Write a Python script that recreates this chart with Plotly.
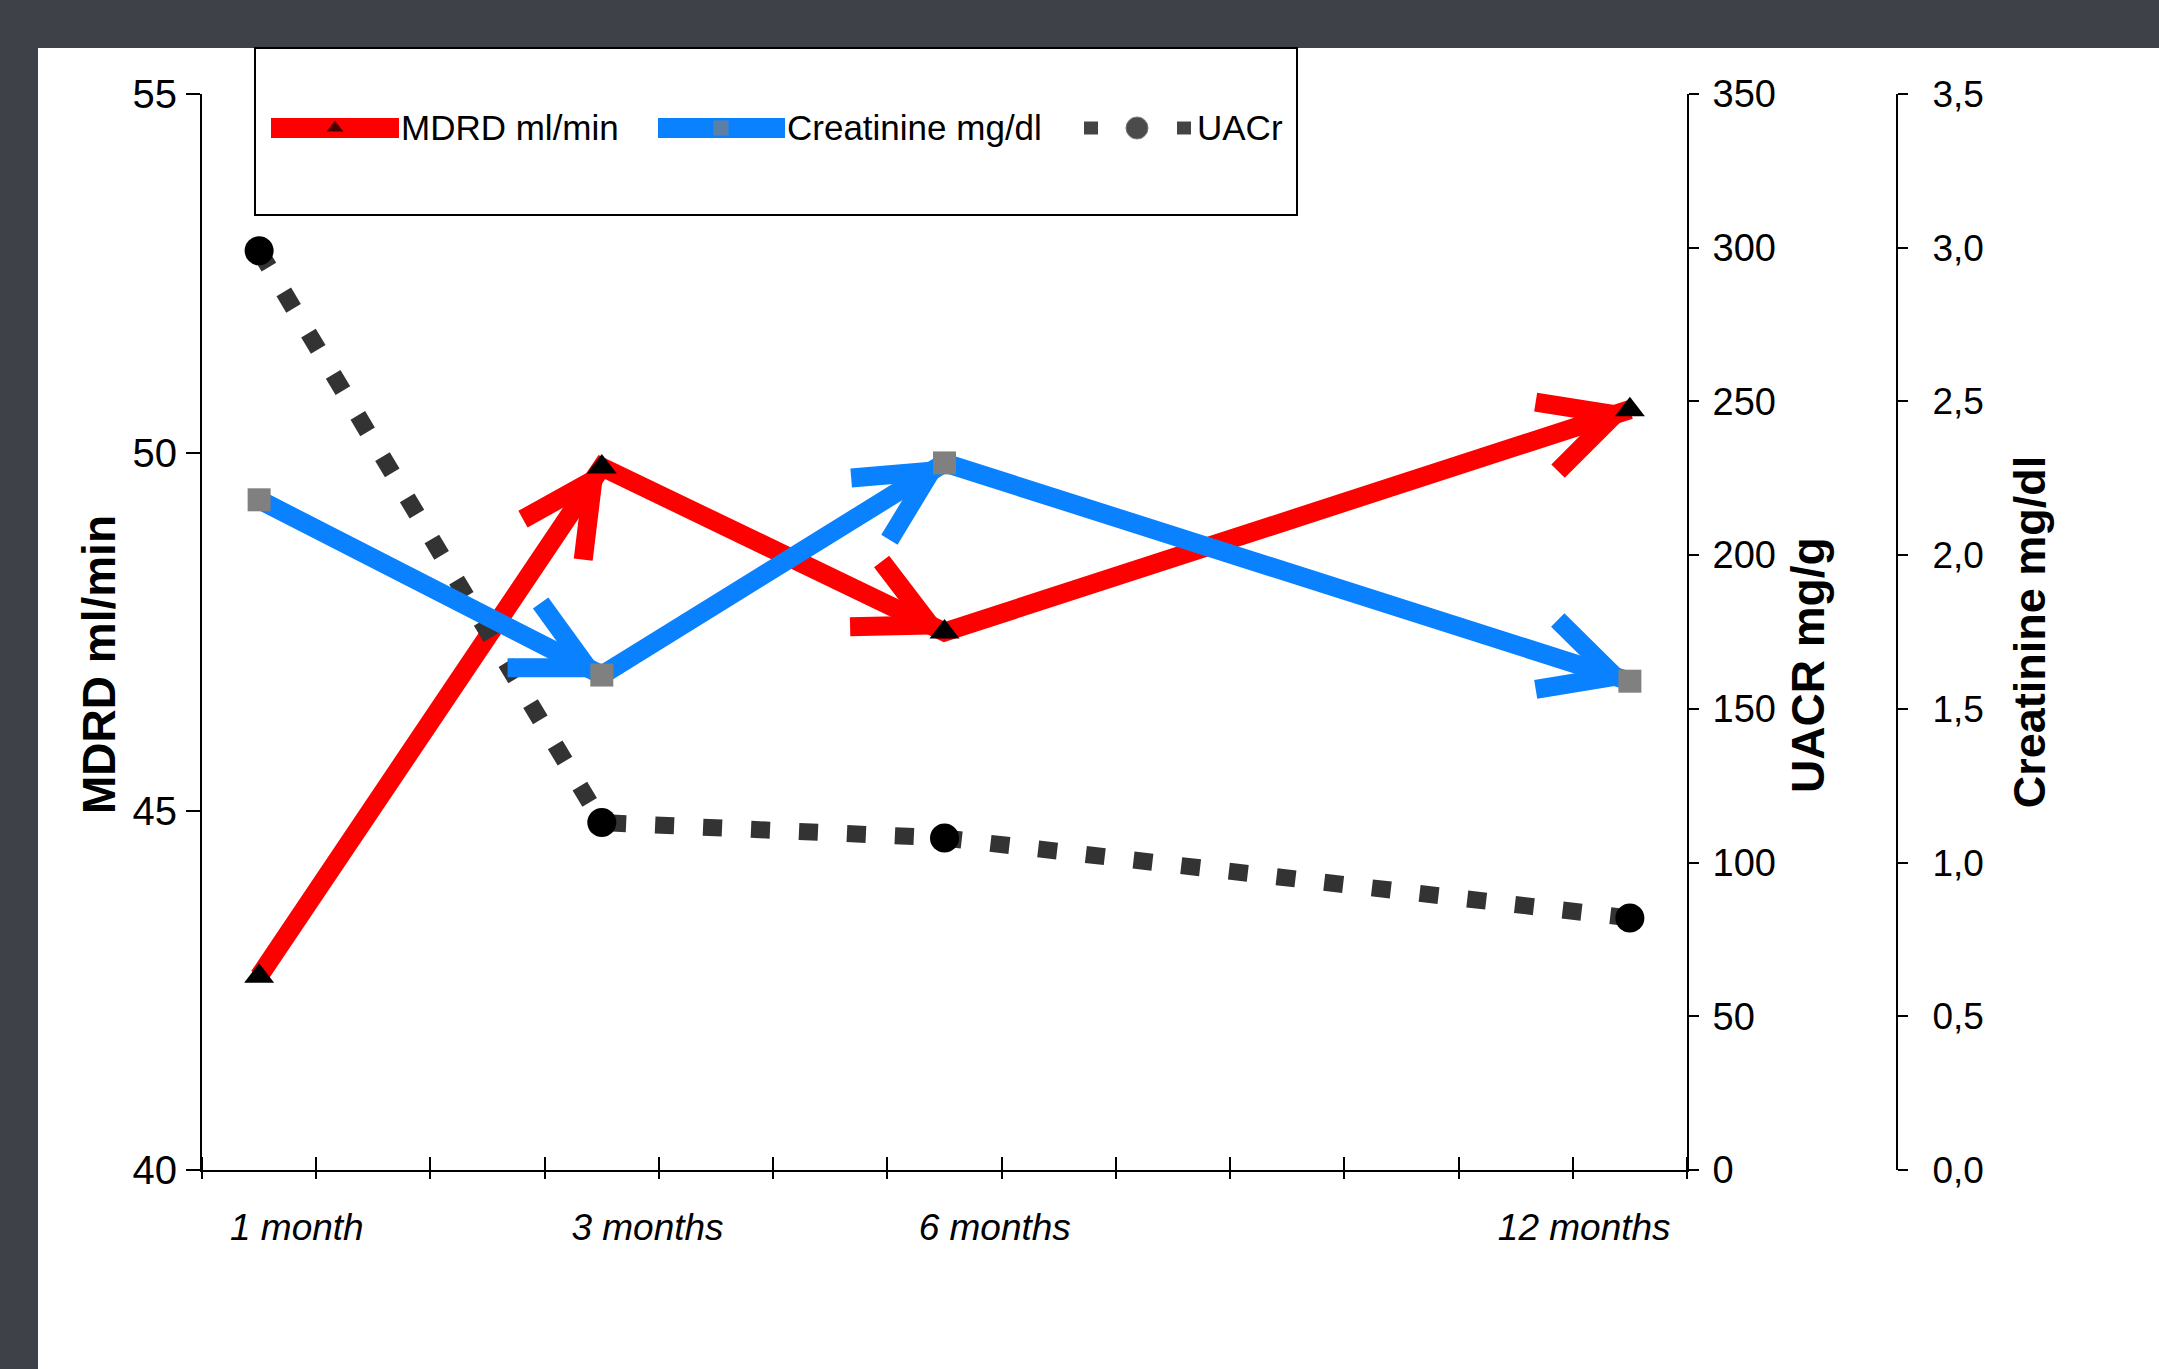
import math
import plotly.graph_objects as go

# ---------------- data ----------------
months = ["1 month", "3 months", "6 months", "12 months"]
x_positions = [0.5, 3.5, 6.5, 12.5]          # category positions on a 13-slot time axis
label_positions = [0.83, 3.9, 6.94, 12.1]    # where the month labels sit
mdrd = [42.7, 49.8, 47.5, 50.6]              # MDRD ml/min (left axis)
creatinine = [2.18, 1.61, 2.30, 1.59]        # Creatinine mg/dl (far right axis)
uacr = [299, 113, 108, 82]                   # UACR mg/g (inner right axis)
mdrd_ticks = [40, 45, 50, 55]
uacr_ticks = [0, 50, 100, 150, 200, 250, 300, 350]
creat_ticks = [0.0, 0.5, 1.0, 1.5, 2.0, 2.5, 3.0, 3.5]
legend_names = ["MDRD ml/min", "Creatinine mg/dl", "UACr"]
axis_titles = ["MDRD ml/min", "UACR mg/g", "Creatinine mg/dl"]

# ---------------- layout geometry / styles ----------------
W, H = 2159, 1369
PLOT_L, PLOT_R, PLOT_T, PLOT_B = 202, 1687, 94, 1170
CREAT_AXIS_X = 1897
X_RANGE = [0, 13]
MDRD_RANGE = [40, 55]
UACR_RANGE = [0, 350]
CREAT_RANGE = [0, 3.5]
BG = "#3e4148"
RED = "#ff0000"
BLUE = "#0a82ff"
GRAY = "#808080"
DASH = "#333333"
SANS = "Liberation Sans, Arial, sans-serif"
LINE_W = 19


def px(x):
    return x / W


def py(y):
    return 1 - y / H


def chevrons(xs, ys, y_range, arm_len=80, half_angle=27, back=16):
    """Open arrowheads at the end of every segment, built in the axes' data space."""
    sx = (PLOT_R - PLOT_L) / (X_RANGE[1] - X_RANGE[0])
    sy = (PLOT_B - PLOT_T) / (y_range[1] - y_range[0])
    a = math.radians(half_angle)
    cx, cy = [], []
    for i in range(1, len(xs)):
        dx = (xs[i] - xs[i - 1]) * sx
        dy = (ys[i] - ys[i - 1]) * sy
        L = math.hypot(dx, dy)
        ux, uy = dx / L, dy / L
        tx = xs[i] - back * ux / sx
        ty = ys[i] - back * uy / sy
        bx, by = -ux, -uy
        pts = []
        for s in (1, -1):
            rx = bx * math.cos(s * a) - by * math.sin(s * a)
            ry = bx * math.sin(s * a) + by * math.cos(s * a)
            pts.append((tx + arm_len * rx / sx, ty + arm_len * ry / sy))
        cx += [pts[0][0], tx, pts[1][0], None]
        cy += [pts[0][1], ty, pts[1][1], None]
    return cx, cy


fig = go.Figure()

# main lines
fig.add_trace(go.Scatter(x=x_positions, y=mdrd, mode="lines", name=legend_names[0],
                         line=dict(color=RED, width=LINE_W), yaxis="y", showlegend=False))
cx, cy = chevrons(x_positions, mdrd, MDRD_RANGE)
fig.add_trace(go.Scatter(x=cx, y=cy, mode="lines", line=dict(color=RED, width=LINE_W),
                         yaxis="y", showlegend=False, hoverinfo="skip"))
fig.add_trace(go.Scatter(x=x_positions, y=creatinine, mode="lines", name=legend_names[1],
                         line=dict(color=BLUE, width=LINE_W), yaxis="y3", showlegend=False))
cx, cy = chevrons(x_positions, creatinine, CREAT_RANGE)
fig.add_trace(go.Scatter(x=cx, y=cy, mode="lines", line=dict(color=BLUE, width=LINE_W),
                         yaxis="y3", showlegend=False, hoverinfo="skip"))
fig.add_trace(go.Scatter(x=x_positions, y=uacr, mode="lines+markers", name=legend_names[2],
                         line=dict(color=DASH, width=17, dash="19px,29px"),
                         marker=dict(symbol="circle", color="black", size=29),
                         yaxis="y2", showlegend=False))
# markers on top
fig.add_trace(go.Scatter(x=x_positions, y=mdrd, mode="markers", name=legend_names[0],
                         marker=dict(symbol="triangle-up", color="black", size=26),
                         yaxis="y", showlegend=False))
fig.add_trace(go.Scatter(x=x_positions, y=creatinine, mode="markers", name=legend_names[1],
                         marker=dict(symbol="square", color=GRAY, size=23),
                         yaxis="y3", showlegend=False))
# helper trace for the crossing-tick overlay axis
fig.add_trace(go.Scatter(x=X_RANGE, y=[None, None], xaxis="x2", yaxis="y",
                         mode="lines", showlegend=False, hoverinfo="skip"))

# ---------------- custom legend ----------------
LX, LY = "x3", "y4"
leg_y = 128
fig.add_trace(go.Scatter(x=[271, 335, 399], y=[leg_y] * 3, mode="lines+markers",
                         line=dict(color=RED, width=20),
                         marker=dict(symbol="triangle-up", color="black", size=[0, 16, 0]),
                         xaxis=LX, yaxis=LY, showlegend=False, hoverinfo="skip"))
fig.add_trace(go.Scatter(x=[658, 721, 785], y=[leg_y] * 3, mode="lines+markers",
                         line=dict(color=BLUE, width=20),
                         marker=dict(symbol="square", color=GRAY, size=[0, 16, 0]),
                         xaxis=LX, yaxis=LY, showlegend=False, hoverinfo="skip"))
fig.add_trace(go.Scatter(x=[1084, 1137, 1191], y=[leg_y] * 3, mode="lines+markers",
                         line=dict(color="#444444", width=13, dash="14px,79px"),
                         marker=dict(symbol="circle", color="black", size=[0, 22, 0]),
                         xaxis=LX, yaxis=LY, showlegend=False, hoverinfo="skip"))
annotations = []
for text, xl in zip(legend_names, [399, 785, 1195]):
    annotations.append(dict(x=px(xl), y=py(leg_y), xref="paper", yref="paper",
                            text=text, showarrow=False, xanchor="left", yanchor="middle",
                            font=dict(family=SANS, size=35, color="black")))
# axis titles for the MDRD and UACR axes (sit below the axis centre in the original)
for text, (tx, ty) in zip(axis_titles[:2], [(99, 665), (1808, 665)]):
    annotations.append(dict(x=px(tx), y=py(ty), xref="paper", yref="paper",
                            text=text, showarrow=False, textangle=-90,
                            xanchor="center", yanchor="middle",
                            font=dict(family=SANS, size=46, color="black", weight="bold")))

shapes = [
    dict(type="rect", xref="paper", yref="paper", x0=px(38), x1=1, y0=0, y1=py(48),
         fillcolor="white", line=dict(width=0), layer="below"),
    dict(type="rect", xref="paper", yref="paper", x0=px(255), x1=px(1297),
         y0=py(215), y1=py(48), fillcolor="rgba(0,0,0,0)",
         line=dict(color="black", width=2), layer="below"),
]

x_dom = [px(PLOT_L), px(PLOT_R)]
y_dom = [py(PLOT_B), py(PLOT_T)]

fig.update_layout(
    width=W, height=H, autosize=False,
    margin=dict(l=0, r=0, t=0, b=0, pad=0),
    paper_bgcolor=BG, plot_bgcolor="rgba(0,0,0,0)",
    separators=",.",
    showlegend=False,
    xaxis=dict(domain=x_dom, range=X_RANGE, anchor="y", automargin=False,
               showline=True, linecolor="black", linewidth=2,
               showgrid=False, zeroline=False,
               tickmode="array", tickvals=label_positions, ticktext=months,
               ticks="", ticklabelstandoff=24,
               tickfont=dict(family=SANS, size=37, color="black", style="italic"),
               minor=dict(tickmode="linear", tick0=0, dtick=1, ticks="inside",
                          ticklen=13, tickwidth=2, tickcolor="black", showgrid=False)),
    xaxis2=dict(domain=x_dom, range=X_RANGE, anchor="y", overlaying="x", automargin=False,
                showline=False, showgrid=False, zeroline=False,
                tickmode="linear", tick0=0, dtick=1, ticks="outside",
                ticklen=8, tickwidth=2, tickcolor="black", showticklabels=False),
    yaxis=dict(domain=y_dom, range=MDRD_RANGE, anchor="x", automargin=False,
               showline=True, linecolor="black", linewidth=2,
               showgrid=False, zeroline=False,
               tickmode="array", tickvals=mdrd_ticks,
               ticks="outside", ticklen=14, tickwidth=2, tickcolor="black",
               ticklabelstandoff=1,
               tickfont=dict(family=SANS, size=40, color="black")),
    yaxis2=dict(domain=y_dom, range=UACR_RANGE, anchor="x", overlaying="y", side="right",
                automargin=False,
                showline=True, linecolor="black", linewidth=2,
                showgrid=False, zeroline=False,
                tickmode="array", tickvals=uacr_ticks,
                ticks="outside", ticklen=10, tickwidth=2, tickcolor="black",
                ticklabelstandoff=6,
                tickfont=dict(family=SANS, size=38, color="black")),
    yaxis3=dict(domain=y_dom, range=CREAT_RANGE, anchor="free", position=px(CREAT_AXIS_X),
                overlaying="y", side="right", automargin=False,
                showline=True, linecolor="black", linewidth=2,
                showgrid=False, zeroline=False,
                tickmode="array", tickvals=creat_ticks, tickformat=".1f",
                ticks="outside", ticklen=10, tickwidth=2, tickcolor="black",
                ticklabelstandoff=17,
                tickfont=dict(family=SANS, size=37, color="black"),
                title=dict(text=axis_titles[2], standoff=30,
                           font=dict(family=SANS, size=45, color="black", weight="bold"))),
    xaxis3=dict(domain=[0, 1], range=[0, W], anchor="y4", visible=False, fixedrange=True),
    yaxis4=dict(domain=[0, 1], range=[H, 0], anchor="x3", visible=False, fixedrange=True),
    shapes=shapes,
    annotations=annotations,
)

fig.write_html(
    "out.html",
    config={"displayModeBar": False},
    post_script="document.body.style.margin='0';document.body.style.background='" + BG + "';",
)
